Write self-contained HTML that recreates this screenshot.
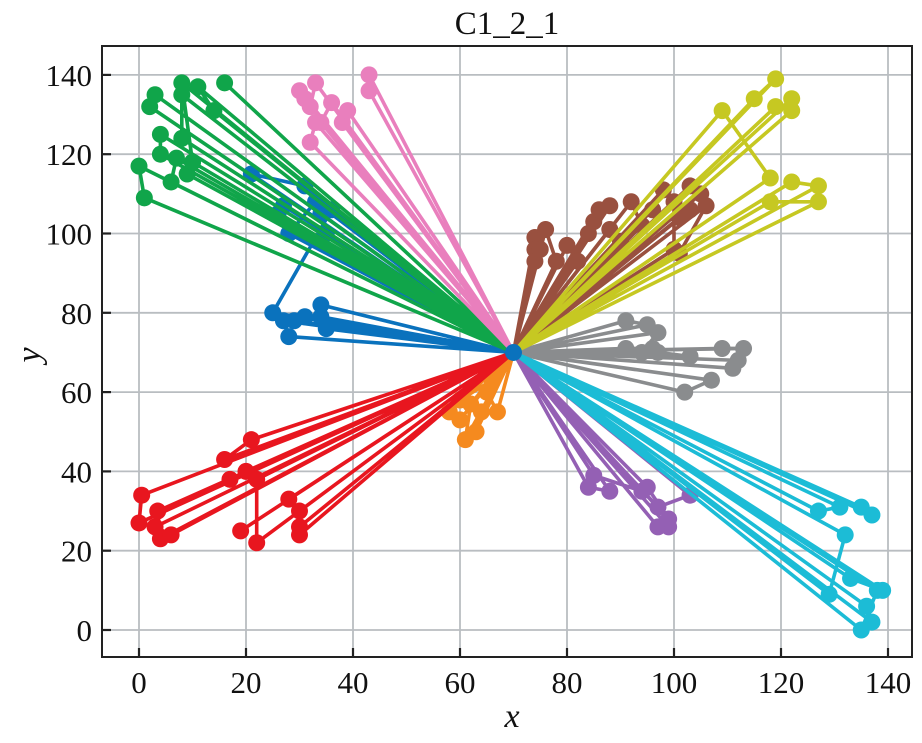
<!DOCTYPE html>
<html><head><meta charset="utf-8"><style>
body{margin:0;background:#fff;}
svg text{font-family:"Liberation Serif",serif;fill:#111;}
</style></head><body>
<svg id="chart" width="922" height="738" xmlns="http://www.w3.org/2000/svg"></svg>
<script>
const depot=[70,70];
const clusterNames=["blue","orange","green","red","purple","brown","pink","gray","olive","cyan"];
const clusterColors=["#0a72bd","#f58a1f","#10a54a","#e8161f","#9460b4","#99503f","#e97fbd","#8a8c8e","#c6c822","#1cbcd6"];
const xsBlue=[21,31,27,26,28,33,34,35,36,25,27,28,29,31,34,34,35];
const ysBlue=[115,112,107,105,100,108,105,100,106,80,78,74,78,79,82,79,76];
const xsOrange=[58,60,61,62,63,64,65,67,60,66];
const ysOrange=[55,53,48,57,50,55,60,55,58,63];
const xsGreen=[0,1,2,3,4,4,6,7,8,8,9,10,10,8,11,14,16];
const ysGreen=[117,109,132,135,120,125,113,119,135,124,115,118,118,138,137,131,138];
const xsRed=[0.5,0,3.5,4,6,3,21,16,17,20,22,22,28,30,30,30,19];
const ysRed=[34,27,30,23,24,26,48,43,38,40,38,22,33,30,26,24,25];
const xsPurple=[84,88,85,94,103,97,97,99,99,95];
const ysPurple=[36,35,39,35,34,31,26,26,28,36];
const xsBrown=[74,74,74,75,76,78,80,82,84,85,86,88,88,90,92,94,96,98,100,100,101,103,103,105,106,101];
const ysBrown=[99,96,93,96,101,93,97,93,100,103,106,107,101,98,108,102,106,111,108,96,104,106,112,110,107,95];
const xsPink=[30,31,32,33,34,36,38,39,43,43,32,33];
const ysPink=[136,134,132,138,128,133,128,131,140,136,123,128];
const xsGray=[91,95,97,94,97,103,109,113,112,111,107,102,96,91];
const ysGray=[78,77,75,70,70,69,71,71,68,66,63,60,71,71];
const xsOlive=[119,115,122,122,109,118,122,127,127,118,119];
const ysOlive=[139,134,134,131,131,114,113,112,108,108,132];
const xsCyan=[127,131,135,137,132,129,133,139,136,137,135,138];
const ysCyan=[30,31,31,29,24,9,13,10,6,2,0,10];
const clusterXs=[xsBlue,xsOrange,xsGreen,xsRed,xsPurple,xsBrown,xsPink,xsGray,xsOlive,xsCyan];
const clusterYs=[ysBlue,ysOrange,ysGreen,ysRed,ysPurple,ysBrown,ysPink,ysGray,ysOlive,ysCyan];
const xTicks=[0,20,40,60,80,100,120,140];
const yTicks=[0,20,40,60,80,100,120,140];

const NS="http://www.w3.org/2000/svg";
const svg=document.getElementById('chart');
const L=102,R=912,T=46,B=657;
function sx(v){return 139+v*5.35;}
function sy(v){return 630-v*3.965;}
function mk(tag,attrs,parent){const e=document.createElementNS(NS,tag);for(const k in attrs)e.setAttribute(k,attrs[k]);(parent||svg).appendChild(e);return e;}

const grid=mk('g',{});


xTicks.forEach(t=>{mk('line',{x1:sx(t),x2:sx(t),y1:T,y2:B,stroke:'#b9bdc1','stroke-width':1.8},grid);});
yTicks.forEach(t=>{mk('line',{x1:L,x2:R,y1:sy(t),y2:sy(t),stroke:'#b9bdc1','stroke-width':1.8},grid);});

clusterXs.forEach((xs,c)=>{
  const g=mk('g',{});
  
  
  const col=clusterColors[c];
  let d='';
  for(let i=0;i<xs.length;i+=2){
    d+='M'+sx(depot[0])+' '+sy(depot[1])+' L'+sx(xs[i])+' '+sy(clusterYs[c][i]);
    if(i+1<xs.length)d+=' L'+sx(xs[i+1])+' '+sy(clusterYs[c][i+1]);
    d+=' Z ';
  }
  mk('path',{d:d,stroke:col,'stroke-width':3.6,fill:'none','stroke-linejoin':'round'},g);
  xs.forEach((x,i)=>{
    const p=mk('circle',{cx:sx(x),cy:sy(clusterYs[c][i]),r:8.5,fill:col},g);
    
    
  });
});
const dp=mk('circle',{cx:sx(depot[0]),cy:sy(depot[1]),r:8.5,fill:'#0a72bd'});



const frame=mk('rect',{x:L,y:T,width:R-L,height:B-T,fill:'none',stroke:'#222','stroke-width':2});



const xa=mk('g',{});


xTicks.forEach(t=>{
  mk('line',{x1:sx(t),x2:sx(t),y1:B,y2:B-9,stroke:'#222','stroke-width':2.2},xa);
  const tx=mk('text',{x:sx(t),y:B+36,'text-anchor':'middle','font-size':31},xa);
  tx.textContent=t;
  
  
});
const ya=mk('g',{});


yTicks.forEach(t=>{
  mk('line',{x1:L,x2:L+9,y1:sy(t),y2:sy(t),stroke:'#222','stroke-width':2.2},ya);
  const tx=mk('text',{x:L-10,y:sy(t)+11,'text-anchor':'end','font-size':31},ya);
  tx.textContent=t;
  
  
});
const ttl=mk('text',{x:507,y:34,'text-anchor':'middle','font-size':33});
ttl.textContent='C1_2_1';


const xl=mk('text',{x:512,y:727,'text-anchor':'middle','font-size':34,'font-style':'italic'});
xl.textContent='x';


const yl=mk('text',{x:40,y:355,'text-anchor':'middle','font-size':34,'font-style':'italic',transform:'rotate(-90 40 355)'});
yl.textContent='y';


</script>
</body></html>
